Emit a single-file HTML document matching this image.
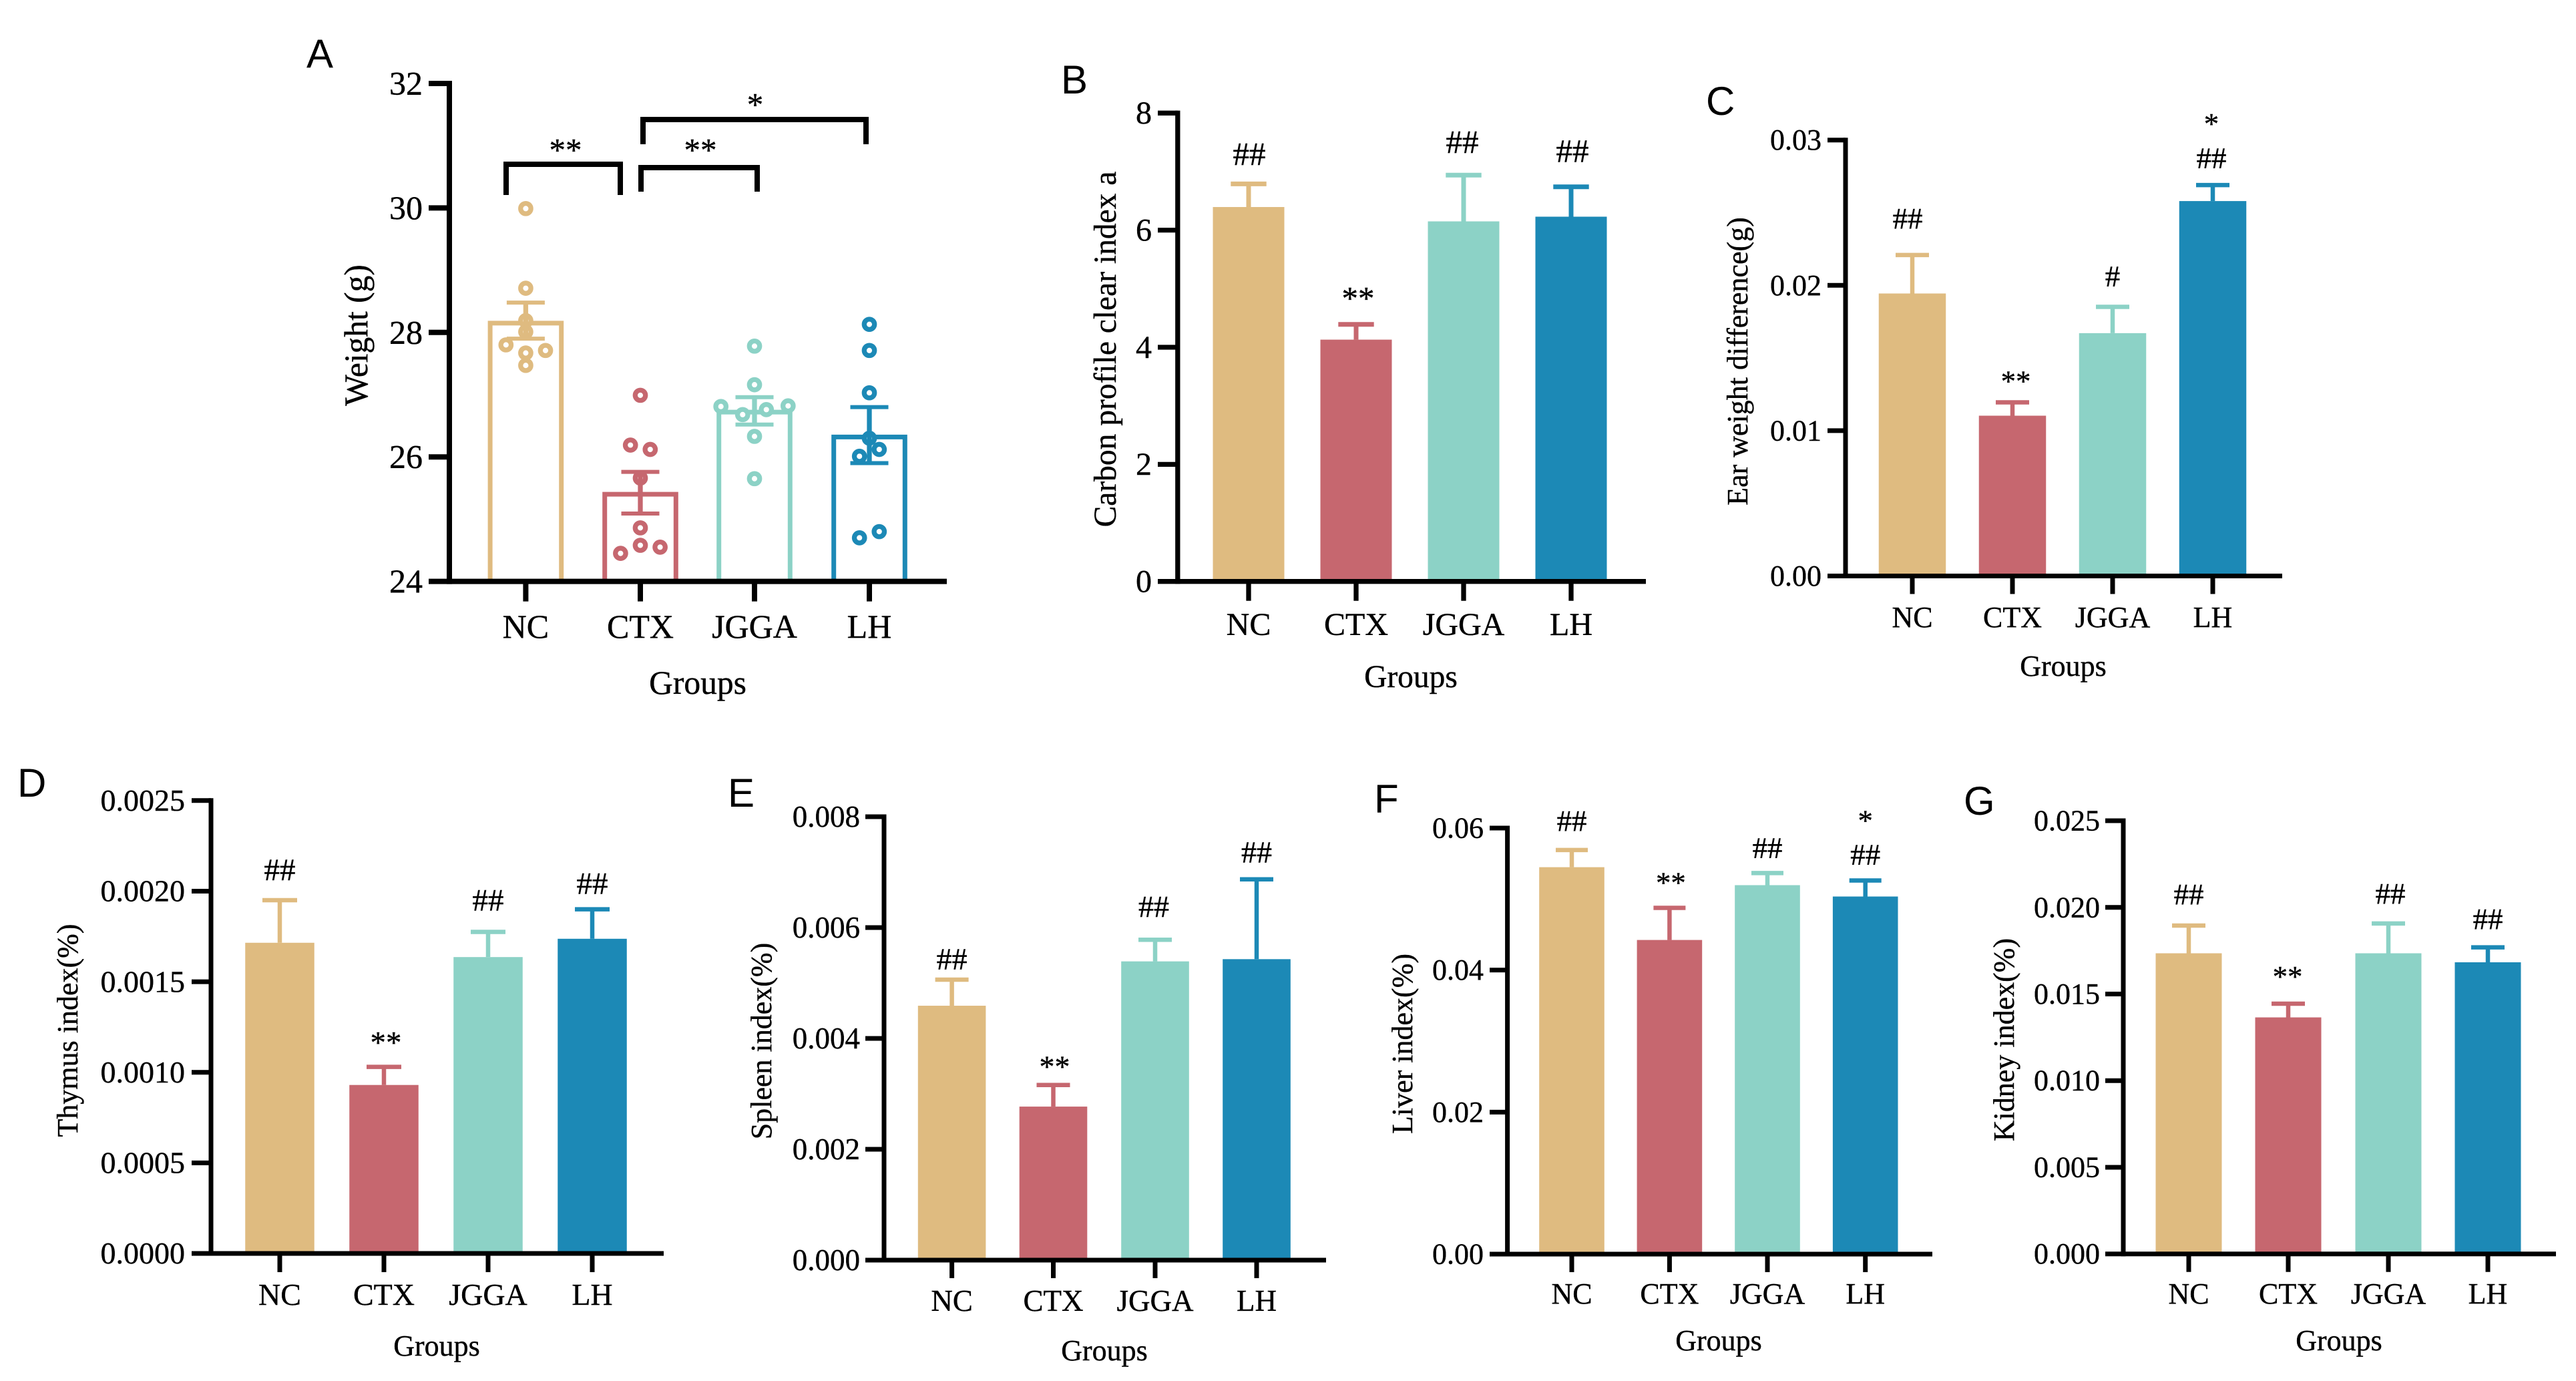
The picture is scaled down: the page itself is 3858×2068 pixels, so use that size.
<!DOCTYPE html>
<html lang="en">
<head>
<meta charset="utf-8">
<title>Immune organ and weight indices by group</title>
<style>
  html, body { margin: 0; padding: 0; background: #ffffff; }
  svg { display: block; }
  text { font-family: "Liberation Serif", "Times New Roman", serif; fill: #000; stroke: #000; stroke-width: 0.4px; }
  text.panel-letter { font-family: "Liberation Sans", Arial, sans-serif; stroke-width: 0; }
</style>
</head>
<body>
<svg id="figure" xmlns="http://www.w3.org/2000/svg" width="3858" height="2068" viewBox="0 0 3858 2068"></svg>
<script>
/* ---------- shared data ---------- */
const categories = ['NC', 'CTX', 'JGGA', 'LH'];
const seriesColors = ['#DFBB80', '#C6676F', '#8CD2C6', '#1C89B6'];

/* ---------- panel A: weight ---------- */
const ticksA = ['24', '26', '28', '30', '32'];
const meansA = [28.15, 25.4, 26.72, 26.32];
const errorTopsA = [28.48, 25.76, 26.96, 26.8];
const errorBottomsA = [27.9, 25.09, 26.52, 25.9];
const pointsNC = [29.99, 28.71, 28.19, 28.01, 27.8, 27.67, 27.71, 27.47];
const pointsCTX = [26.99, 26.19, 26.12, 25.66, 24.86, 24.58, 24.55, 24.45];
const pointsJGGA = [27.78, 27.16, 26.81, 26.82, 26.76, 26.68, 26.33, 25.65];
const pointsLH = [28.13, 27.71, 27.03, 26.3, 26.12, 26.01, 24.8, 24.7];
const jitterNC = [0, 0, 0, 0, -1, 0, 1, 0];
const jitterCTX = [0, -0.5, 0.5, 0, 0, 0, 1, -1];
const jitterJGGA = [0, 0, -1.7, 1.7, 0.6, -0.6, 0, 0];
const jitterLH = [0, 0, 0, 0, 0.5, -0.5, 0.5, -0.5];

/* ---------- panel B: carbon clearance ---------- */
const ticksB = ['0', '2', '4', '6', '8'];
const meansB = [6.395, 4.13, 6.15, 6.23];
const errorsB = [6.79, 4.39, 6.94, 6.74];
const marksB = ['##', '**', '##', '##'];

/* ---------- panel C: ear weight ---------- */
const ticksC = ['0.00', '0.01', '0.02', '0.03'];
const meansC = [0.01944, 0.01103, 0.01671, 0.0258];
const errorsC = [0.02209, 0.01195, 0.01852, 0.0269];
const marksC = ['##', '**', '#', '##'];

/* ---------- panel D: thymus ---------- */
const ticksD = ['0.0000', '0.0005', '0.0010', '0.0015', '0.0020', '0.0025'];
const meansD = [0.001715, 0.00093, 0.001636, 0.001737];
const errorsD = [0.00195, 0.00103, 0.001775, 0.0019];
const marksD = ['##', '**', '##', '##'];

/* ---------- panel E: spleen ---------- */
const ticksE = ['0.000', '0.002', '0.004', '0.006', '0.008'];
const meansE = [0.00459, 0.00277, 0.00539, 0.00543];
const errorsE = [0.00506, 0.00316, 0.00578, 0.00687];
const marksE = ['##', '**', '##', '##'];

/* ---------- panel F: liver ---------- */
const ticksF = ['0.00', '0.02', '0.04', '0.06'];
const meansF = [0.05449, 0.04424, 0.05196, 0.05036];
const errorsF = [0.05691, 0.04876, 0.05366, 0.05262];
const marksF = ['##', '**', '##', '##'];

/* ---------- panel G: kidney ---------- */
const ticksG = ['0.000', '0.005', '0.010', '0.015', '0.020', '0.025'];
const meansG = [0.01735, 0.01365, 0.01735, 0.01683];
const errorsG = [0.01895, 0.01444, 0.01907, 0.01769];
const marksG = ['##', '**', '##', '##'];

const SVG_NS = 'http://www.w3.org/2000/svg';
const root = document.getElementById('figure');

function addLine(parent, name, x1, y1, x2, y2, color, width) {
  const l = document.createElementNS(SVG_NS, 'line');
  
  
  l.setAttribute('x1', x1);
  l.setAttribute('y1', y1);
  l.setAttribute('x2', x2);
  l.setAttribute('y2', y2);
  l.setAttribute('stroke', color);
  l.setAttribute('stroke-width', width);
  parent.appendChild(l);
  return l;
}

function addText(parent, name, str, x, y, size, anchor, cls, rotate) {
  const t = document.createElementNS(SVG_NS, 'text');
  
  
  t.setAttribute('x', x);
  t.setAttribute('y', y);
  t.setAttribute('font-size', size);
  t.setAttribute('text-anchor', anchor);
  if (cls) t.setAttribute('class', cls);
  if (rotate) t.setAttribute('transform', 'rotate(-90 ' + x + ' ' + y + ')');
  t.textContent = str;
  parent.appendChild(t);
  return t;
}

function addGroup(name) {
  const g = document.createElementNS(SVG_NS, 'g');
  
  
  root.appendChild(g);
  return g;
}

function makeYScale(ticks, top, bottom) {
  const min = parseFloat(ticks[0]);
  const max = parseFloat(ticks[ticks.length - 1]);
  return function (v) { return bottom - (v - min) / (max - min) * (bottom - top); };
}

function drawAxes(g, p, ticks, y) {
  const w = p.axisWidth;
  addLine(g, 'y-axis-line', p.axisX, y(parseFloat(ticks[ticks.length - 1])) - w / 2, p.axisX, p.bottom + w / 2, '#000', w);
  addLine(g, 'x-axis-line', p.axisX, p.bottom, p.axisEnd, p.bottom, '#000', w);
  ticks.forEach(function (label) {
    const ty = y(parseFloat(label));
    addLine(g, 'y-tick-' + label, p.tickLeft, ty, p.axisX, ty, '#000', w);
    addText(g, 'y-tick-label-' + label, label, p.labelRight, ty + p.font * 0.33, p.font, 'end');
  });
  categories.forEach(function (c, i) {
    addLine(g, 'x-tick-' + c.toLowerCase(), p.xs[i], p.bottom, p.xs[i], p.bottom + p.tickLen, '#000', w);
    addText(g, 'x-tick-label-' + c.toLowerCase(), c, p.xs[i], p.xBase, p.font, 'middle');
  });
  addText(g, 'x-axis-title', p.xTitle, p.xTitleX, p.xTitleBase, p.titleFont, 'middle');
  addText(g, 'y-axis-title', p.yTitle, p.yTitleBase, p.yTitleY, p.titleFont, 'middle', '', true);
  addText(g, 'panel-letter', p.letter, p.letterX, p.letterBase, 60, 'start', 'panel-letter');
}

function addMark(g, name, str, x, centerY, size) {
  const shift = str.charAt(0) === '#' ? 0.338 : 0.47;
  addText(g, name, str, x, centerY + size * shift, size, 'middle');
}

function drawFilledPanel(p, ticks, means, errors, marks) {
  const g = addGroup('panel-' + p.letter.toLowerCase());
  const y = makeYScale(ticks, p.top, p.bottom);
  categories.forEach(function (c, i) {
    const key = c.toLowerCase();
    const topY = y(means[i]);
    const errY = y(errors[i]);
    addLine(g, 'error-stem-' + key, p.xs[i], topY, p.xs[i], errY, seriesColors[i], p.errWidth);
    addLine(g, 'error-cap-' + key, p.xs[i] - p.capHalf, errY, p.xs[i] + p.capHalf, errY, seriesColors[i], p.errWidth);
    const r = document.createElementNS(SVG_NS, 'rect');
    
    
    r.setAttribute('x', p.xs[i] - p.barWidth / 2);
    r.setAttribute('y', topY);
    r.setAttribute('width', p.barWidth);
    r.setAttribute('height', p.bottom - topY);
    r.setAttribute('fill', seriesColors[i]);
    g.appendChild(r);
    addMark(g, 'significance-' + key, marks[i], p.xs[i] + p.markDx[i], errY - p.markGaps[i], p.font * 1.02);
    if (p.extraMark && p.extraMark.index === i) {
      addMark(g, 'significance-extra-' + key, p.extraMark.text, p.xs[i] + p.markDx[i], errY - p.extraMark.gap, p.font * 1.02);
    }
  });
  drawAxes(g, p, ticks, y);
}

function drawPanelA(p) {
  const g = addGroup('panel-a');
  const y = makeYScale(ticksA, p.top, p.bottom);
  const pointSets = [pointsNC, pointsCTX, pointsJGGA, pointsLH];
  const jitterSets = [jitterNC, jitterCTX, jitterJGGA, jitterLH];
  categories.forEach(function (c, i) {
    const key = c.toLowerCase();
    const topY = y(meansA[i]);
    const half = p.barWidth / 2;
    const outline = document.createElementNS(SVG_NS, 'path');
    
    
    outline.setAttribute('d', 'M' + (p.xs[i] - half) + ' ' + p.bottom + 'V' + topY + 'H' + (p.xs[i] + half) + 'V' + p.bottom);
    outline.setAttribute('fill', 'none');
    outline.setAttribute('stroke', seriesColors[i]);
    outline.setAttribute('stroke-width', 7);
    g.appendChild(outline);
    pointSets[i].forEach(function (v, k) {
      const dot = document.createElementNS(SVG_NS, 'circle');
      
      
      dot.setAttribute('cx', p.xs[i] + jitterSets[i][k] * p.jitterUnit);
      dot.setAttribute('cy', y(v));
      dot.setAttribute('r', 7.7);
      dot.setAttribute('fill', '#fff');
      dot.setAttribute('stroke', seriesColors[i]);
      dot.setAttribute('stroke-width', 7.3);
      g.appendChild(dot);
    });
    const hi = y(errorTopsA[i]);
    const lo = y(errorBottomsA[i]);
    addLine(g, 'error-stem-' + key, p.xs[i], hi, p.xs[i], lo, seriesColors[i], 7.3);
    addLine(g, 'error-cap-top-' + key, p.xs[i] - p.capHalf, hi, p.xs[i] + p.capHalf, hi, seriesColors[i], 6);
    addLine(g, 'error-cap-bottom-' + key, p.xs[i] - p.capHalf, lo, p.xs[i] + p.capHalf, lo, seriesColors[i], 6);
  });
  drawAxes(g, p, ticksA, y);
  p.brackets.forEach(function (b) {
    const path = document.createElementNS(SVG_NS, 'path');
    
    
    path.setAttribute('d', 'M' + b.x1 + ' ' + b.leg1 + 'V' + b.y + 'H' + b.x2 + 'V' + b.leg2);
    path.setAttribute('fill', 'none');
    path.setAttribute('stroke', '#000');
    path.setAttribute('stroke-width', 8);
    g.appendChild(path);
    addMark(g, 'bracket-significance-' + b.name, b.text, b.textX, b.textY, 49);
  });
}

drawPanelA({
  letter: 'A', letterX: 459, letterBase: 101,
  axisX: 673, axisEnd: 1418, tickLeft: 642, labelRight: 633, tickLen: 30, axisWidth: 8,
  top: 125, bottom: 870.6, xs: [787.4, 959, 1130, 1302], barWidth: 106.6, capHalf: 28.5, jitterUnit: 29.6,
  font: 50, titleFont: 49.5, xBase: 955, xTitle: 'Groups', xTitleX: 1045, xTitleBase: 1039,
  yTitle: 'Weight (g)', yTitleBase: 550, yTitleY: 502,
  brackets: [
    { name: 'nc-ctx', x1: 758, x2: 929, y: 246, leg1: 292, leg2: 292, text: '**', textX: 847, textY: 218 },
    { name: 'ctx-jgga', x1: 960, x2: 1134, y: 251, leg1: 287, leg2: 287, text: '**', textX: 1049, textY: 218 },
    { name: 'ctx-lh', x1: 963, x2: 1297, y: 179, leg1: 216, leg2: 216, text: '*', textX: 1131, textY: 150 }
  ]
});

drawFilledPanel({
  letter: 'B', letterX: 1589, letterBase: 140,
  axisX: 1763.8, axisEnd: 2465, tickLeft: 1734, labelRight: 1725, tickLen: 29, axisWidth: 7.3,
  top: 169.3, bottom: 870.7, xs: [1870, 2031, 2192, 2353], barWidth: 107, capHalf: 26.7, errWidth: 7,
  font: 48, titleFont: 47.5, xBase: 951, xTitle: 'Groups', xTitleX: 2113, xTitleBase: 1029,
  yTitle: 'Carbon profile clear index a', yTitleBase: 1671, yTitleY: 523,
  markDx: [1, 3, -2, 2], markGaps: [45, 46, 50, 54]
}, ticksB, meansB, errorsB, marksB);

drawFilledPanel({
  letter: 'C', letterX: 2555, letterBase: 172,
  axisX: 2764, axisEnd: 3418, tickLeft: 2737, labelRight: 2728, tickLen: 27, axisWidth: 7,
  top: 209.7, bottom: 862.5, xs: [2864, 3014, 3164, 3314], barWidth: 100.5, capHalf: 25, errWidth: 6.5,
  font: 44, titleFont: 44, xBase: 939, xTitle: 'Groups', xTitleX: 3090, xTitleBase: 1012,
  yTitle: 'Ear weight difference(g)', yTitleBase: 2617, yTitleY: 541,
  markDx: [-7, 5, 0, -2], markGaps: [55, 38, 46, 41],
  extraMark: { index: 3, text: '*', gap: 98 }
}, ticksC, meansC, errorsC, marksC);

drawFilledPanel({
  letter: 'D', letterX: 26, letterBase: 1193,
  axisX: 316, axisEnd: 994, tickLeft: 287, labelRight: 277, tickLen: 28, axisWidth: 7,
  top: 1198.8, bottom: 1877, xs: [419, 575, 731, 887], barWidth: 103.5, capHalf: 26, errWidth: 6.5,
  font: 46, titleFont: 44, xBase: 1954, xTitle: 'Groups', xTitleX: 654, xTitleBase: 2030,
  yTitle: 'Thymus index(%)', yTitleBase: 116, yTitleY: 1543,
  markDx: [0, 3, 0, 0], markGaps: [46, 43, 48, 39]
}, ticksD, meansD, errorsD, marksD);

drawFilledPanel({
  letter: 'E', letterX: 1090, letterBase: 1208,
  axisX: 1324, axisEnd: 1986, tickLeft: 1296, labelRight: 1288, tickLen: 27, axisWidth: 7,
  top: 1223, bottom: 1887, xs: [1425.6, 1577.5, 1730, 1882], barWidth: 101.6, capHalf: 25, errWidth: 6.5,
  font: 45, titleFont: 44, xBase: 1963, xTitle: 'Groups', xTitleX: 1654, xTitleBase: 2037,
  yTitle: 'Spleen index(%)', yTitleBase: 1155, yTitleY: 1559,
  markDx: [0, 2, -2, 0], markGaps: [31, 34, 50, 41]
}, ticksE, meansE, errorsE, marksE);

drawFilledPanel({
  letter: 'F', letterX: 2058, letterBase: 1217,
  axisX: 2257.6, axisEnd: 2894, tickLeft: 2231, labelRight: 2222, tickLen: 27, axisWidth: 7,
  top: 1240, bottom: 1878, xs: [2354, 2500.4, 2647, 2793.7], barWidth: 97.6, capHalf: 24, errWidth: 6.5,
  font: 44, titleFont: 44, xBase: 1952, xTitle: 'Groups', xTitleX: 2574, xTitleBase: 2022,
  yTitle: 'Liver index(%)', yTitleBase: 2115, yTitleY: 1563,
  markDx: [0, 2, 0, 0], markGaps: [44, 44, 38, 39],
  extraMark: { index: 3, text: '*', gap: 96 }
}, ticksF, meansF, errorsF, marksF);

drawFilledPanel({
  letter: 'G', letterX: 2941, letterBase: 1220,
  axisX: 3180, axisEnd: 3828, tickLeft: 3153, labelRight: 3145, tickLen: 27, axisWidth: 7,
  top: 1229, bottom: 1877.7, xs: [3278, 3427, 3577, 3726], barWidth: 99, capHalf: 25, errWidth: 6.5,
  font: 44, titleFont: 44, xBase: 1952, xTitle: 'Groups', xTitleX: 3503, xTitleBase: 2022,
  yTitle: 'Kidney index(%)', yTitleBase: 3016, yTitleY: 1557,
  markDx: [0, -1, 3, 0], markGaps: [47, 47, 45, 43]
}, ticksG, meansG, errorsG, marksG);
</script>
</body>
</html>
